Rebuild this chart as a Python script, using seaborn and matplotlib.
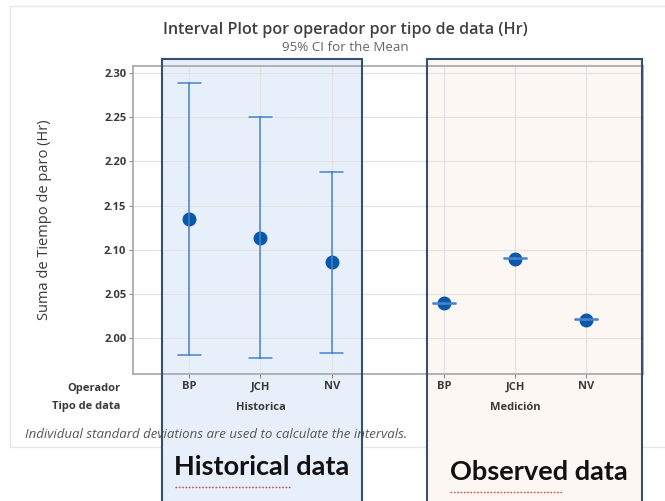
import numpy as np
import pandas as pd
import matplotlib
matplotlib.use("Agg")
import matplotlib.pyplot as plt
from matplotlib.patches import Rectangle
from matplotlib.lines import Line2D
import matplotlib.transforms as mtransforms
import seaborn as sns

# ---- data ----
tipos = ["Historica", "Historica", "Historica", "Medición", "Medición", "Medición"]
operadores = ["BP", "JCH", "NV", "BP", "JCH", "NV"]
means = [2.1346, 2.1127, 2.0855, 2.0393, 2.0898, 2.0204]
ci_low = [1.980, 1.977, 1.983, 2.0388, 2.0893, 2.0199]
ci_high = [2.289, 2.250, 2.1876, 2.0398, 2.0903, 2.0209]
yticks = [2.00, 2.05, 2.10, 2.15, 2.20, 2.25, 2.30]

title = "Interval Plot por operador por tipo de data (Hr)"
subtitle = "95% CI for the Mean"
ylabel = "Suma de Tiempo de paro (Hr)"
note = "Individual standard deviations are used to calculate the intervals."

# positions (layout): groups separated by a gap
group_gap = 0.58
positions = []
for i, t in enumerate(tipos):
    grp = 0 if t == "Historica" else 1
    positions.append(i + grp * group_gap)

# long-form table: each group has low, mean, high -> median = mean, (min,max) = CI
rows = []
for p, lo, m, hi in zip(positions, ci_low, means, ci_high):
    for v in (lo, m, hi):
        rows.append({"pos": p, "val": v})
df = pd.DataFrame(rows)

sns.set_theme(style="white")
plt.rcParams["font.family"] = ["Open Sans", "DejaVu Sans"]

fig = plt.figure(figsize=(6.65, 5.01), dpi=100)
fig.patch.set_facecolor("white")

W, H = 665.0, 501.0
def fx(px): return px / W
def fy(py): return 1 - py / H

TXT = "#3A3A3A"

# outer light frame
fig.patches.append(Rectangle((fx(10), fy(447)), fx(700) - fx(10), fy(6) - fy(447),
                             transform=fig.transFigure, fill=False,
                             edgecolor="#E6E6E6", linewidth=1.0, zorder=0))

# shaded fills behind axes
blue_fill = Rectangle((fx(162), fy(510)), fx(362) - fx(162), fy(59) - fy(510),
                      transform=fig.transFigure, facecolor="#E7F0FA",
                      edgecolor="none", zorder=0.5)
orange_fill = Rectangle((fx(427), fy(510)), fx(641.7) - fx(427), fy(59) - fy(510),
                        transform=fig.transFigure, facecolor="#FDF7F3",
                        edgecolor="none", zorder=0.5)
fig.patches.extend([blue_fill, orange_fill])

ax = fig.add_axes([fx(133.3), fy(374.3), fx(642.7) - fx(133.3), fy(66) - fy(374.3)])
ax.set_zorder(1)
ax.patch.set_alpha(0)

sns.pointplot(data=df, x="pos", y="val", native_scale=True,
              estimator="median", errorbar=lambda v: (v.min(), v.max()),
              linestyle="none", color="#0A58AA", markersize=8,
              capsize=0.32, err_kws={"color": "#4583CD", "linewidth": 1.1},
              ax=ax)

ax.set_xlim(positions[0] - 0.787, positions[-1] + 0.79)
ax.set_ylim(1.9585, 2.3083)
ax.set_yticks(yticks)
ax.set_yticklabels([f"{t:.2f}" for t in yticks], fontsize=8, color=TXT,
                   fontweight="bold")
ax.set_xticks(positions)
ax.set_xticklabels(operadores, fontsize=8, color=TXT, fontweight="bold")
ax.set_xlabel("")
ax.set_ylabel(ylabel, fontsize=10.5, color=TXT)
ax.yaxis.set_label_coords((52 - 133.3) / (642.7 - 133.3), 0.5)
ax.tick_params(axis="both", which="both", length=3, width=0.8, color="#8C8C8C",
               direction="out", pad=2, bottom=True, left=True)
ax.grid(True, color="#E3E3E3", linewidth=0.9)
ax.set_axisbelow(True)
for s in ax.spines.values():
    s.set_color("#A6A6A6")
    s.set_linewidth(1.2)

# group labels under tick labels
trans = mtransforms.blended_transform_factory(ax.transData, fig.transFigure)
ax.text(np.mean(positions[0:3]), fy(407), "Historica", transform=trans, ha="center",
        va="center", fontsize=8, color=TXT, fontweight="bold")
ax.text(np.mean(positions[3:6]), fy(407), "Medición", transform=trans, ha="center",
        va="center", fontsize=8, color=TXT, fontweight="bold")

fig.text(fx(120), fy(388), "Operador", ha="right", va="center", fontsize=8,
         color=TXT, fontweight="bold")
fig.text(fx(120), fy(407), "Tipo de data", ha="right", va="center", fontsize=8,
         color=TXT, fontweight="bold")

fig.text(fx(345), fy(29.5), title, ha="center", va="center", fontsize=11.6,
         color="#404040", fontweight="semibold")
fig.text(fx(345), fy(47.5), subtitle, ha="center", va="center", fontsize=9.6,
         color="#666666")
fig.text(fx(25), fy(435), note, ha="left", va="center", fontsize=9.5,
         color="#555555", style="italic")

# rectangle outlines on top
for (x0, x1) in [(162, 362), (427, 641.7)]:
    fig.patches.append(Rectangle((fx(x0), fy(510)), fx(x1) - fx(x0), fy(59) - fy(510),
                                 transform=fig.transFigure, fill=False,
                                 edgecolor="#34506C", linewidth=1.5, zorder=5))

fig.text(fx(262), fy(467), "Historical data", ha="center", va="center",
         fontsize=19.5, fontweight="bold", color="#111111",
         family=["Lato", "DejaVu Sans"], zorder=6)
fig.text(fx(539), fy(472), "Observed data", ha="center", va="center",
         fontsize=19.5, fontweight="bold", color="#111111",
         family=["Lato", "DejaVu Sans"], zorder=6)

# spell-check style underline
for (x0, x1, yy) in [(175, 290, 487), (450, 563, 492)]:
    fig.lines.append(Line2D([fx(x0), fx(x1)], [fy(yy), fy(yy)],
                            transform=fig.transFigure, color="#E04040",
                            linewidth=1.0, linestyle=(0, (1.2, 1.2)), zorder=6))

fig.savefig("out.png", dpi=100, facecolor="white")
